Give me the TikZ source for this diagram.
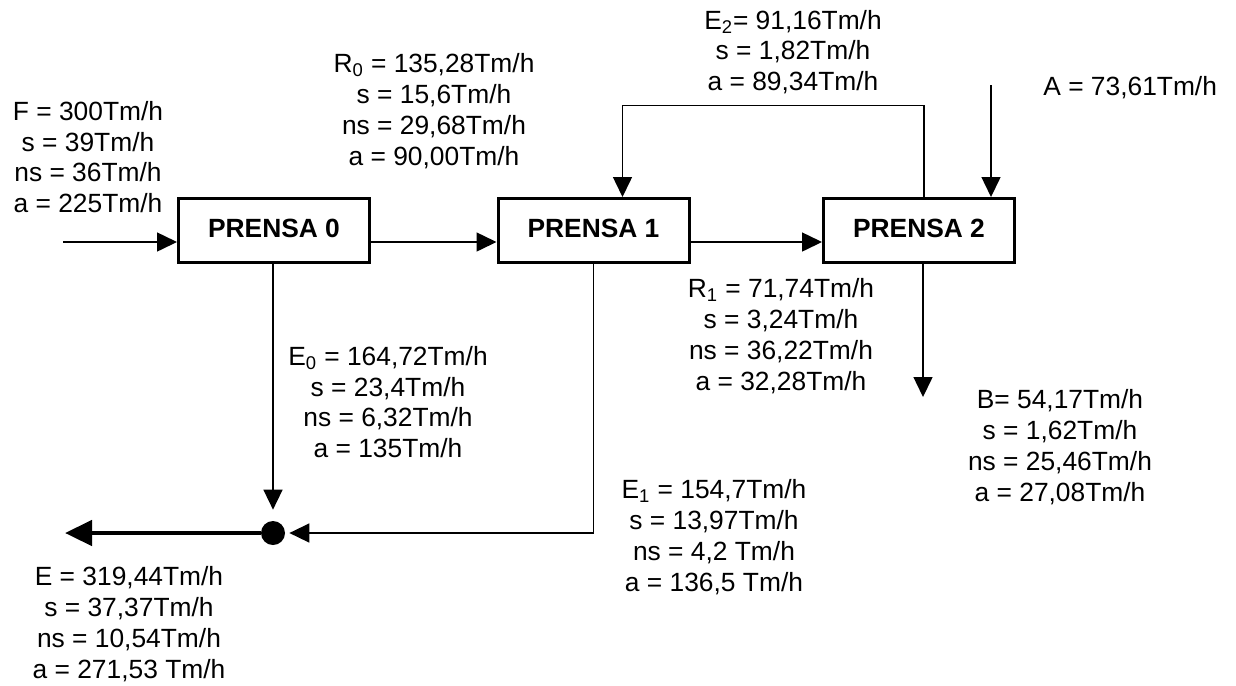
\documentclass[tikz,border=0pt]{standalone}
\usepackage{fontspec}
\setmainfont{Liberation Sans}
\usepackage{tikz}
\usetikzlibrary{arrows.meta, positioning, calc}

\begin{document}
\begin{tikzpicture}[
    prensa/.style={draw, line width=0.06cm, minimum width=3.82cm, minimum height=1.28cm,
        font=\fontsize{15}{17}\selectfont\bfseries, inner sep=0pt},
    flow/.style={-{Triangle[length=0.4cm, width=0.38cm]}, line width=0.03cm},
    bigflow/.style={-{Triangle[length=0.54cm, width=0.5cm]}, line width=0.09cm},
    lbl/.style={font=\fontsize{15}{17.5}\selectfont, align=center, inner sep=0pt},
]
    \useasboundingbox (0, 0) rectangle (24.72, -13.7);

    % presses
    \node[prensa] (P0) at (5.48, -4.61) {\raisebox{0.1cm}{PRENSA 0}};
    \node[prensa] (P1) at (11.87, -4.61) {\raisebox{0.1cm}{PRENSA 1}};
    \node[prensa] (P2) at (18.38, -4.61) {\raisebox{0.1cm}{PRENSA 2}};
    \node[circle, fill, inner sep=0pt, minimum size=0.48cm] (mix) at (5.46, -10.66) {};

    \coordinate (Fin) at (1.26, -4.84);
    \coordinate (Ain) at (19.82, -1.7);
    \coordinate (Bout) at (18.46, -7.94);
    \coordinate (Eout) at (1.3, -10.66);

    % main line
    \draw[flow] (Fin) -- (Fin -| P0.west);
    \draw[flow] ([yshift=-0.23cm]P0.east) -- ([yshift=-0.23cm]P1.west);
    \draw[flow] ([yshift=-0.23cm]P1.east) -- ([yshift=-0.23cm]P2.west);

    % recycle E2 and water A
    \draw[flow] ([xshift=0.1cm]P2.north) -- ++(0, 1.83) -| ([xshift=0.58cm]P1.north);
    \draw[flow] (Ain) -- (Ain |- P2.north);
    \draw[flow] (Bout |- P2.south) -- (Bout);

    % press liquors
    \draw[flow, shorten >=0.22cm] (P0.south -| mix) -- (mix.north);
    \draw[flow, shorten >=0.08cm] (P1.south) |- (mix.east);
    \draw[bigflow] (mix) -- (Eout);

    % stream data
    \node[lbl] (F) at (1.76, -3.14) {F = 300Tm/h\\s = 39Tm/h\\ns = 36Tm/h\\a = 225Tm/h};
    \node[lbl] (R0) at (8.68, -2.22) {R\textsubscript{0} = 135,28Tm/h\\s = 15,6Tm/h\\ns = 29,68Tm/h\\a = 90,00Tm/h};
    \node[lbl] (E2) at (15.86, -1.04) {E\textsubscript{2}= 91,16Tm/h\\s = 1,82Tm/h\\a = 89,34Tm/h};
    \node[lbl, anchor=west] (A) at (20.86, -1.76) {A = 73,61Tm/h};
    \node[lbl] (R1) at (15.62, -6.72) {R\textsubscript{1} = 71,74Tm/h\\s = 3,24Tm/h\\ns = 36,22Tm/h\\a = 32,28Tm/h};
    \node[lbl] (E0) at (7.76, -8.04) {E\textsubscript{0} = 164,72Tm/h\\s = 23,4Tm/h\\ns = 6,32Tm/h\\a = 135Tm/h};
    \node[lbl] (B) at (21.2, -8.94) {B= 54,17Tm/h\\s = 1,62Tm/h\\ns = 25,46Tm/h\\a = 27,08Tm/h};
    \node[lbl] (E1) at (14.28, -10.74) {E\textsubscript{1} = 154,7Tm/h\\s = 13,97Tm/h\\ns = 4,2 Tm/h\\a = 136,5 Tm/h};
    \node[lbl] (E) at (2.58, -12.48) {E = 319,44Tm/h\\s = 37,37Tm/h\\ns = 10,54Tm/h\\a = 271,53 Tm/h};
\end{tikzpicture}
\end{document}
